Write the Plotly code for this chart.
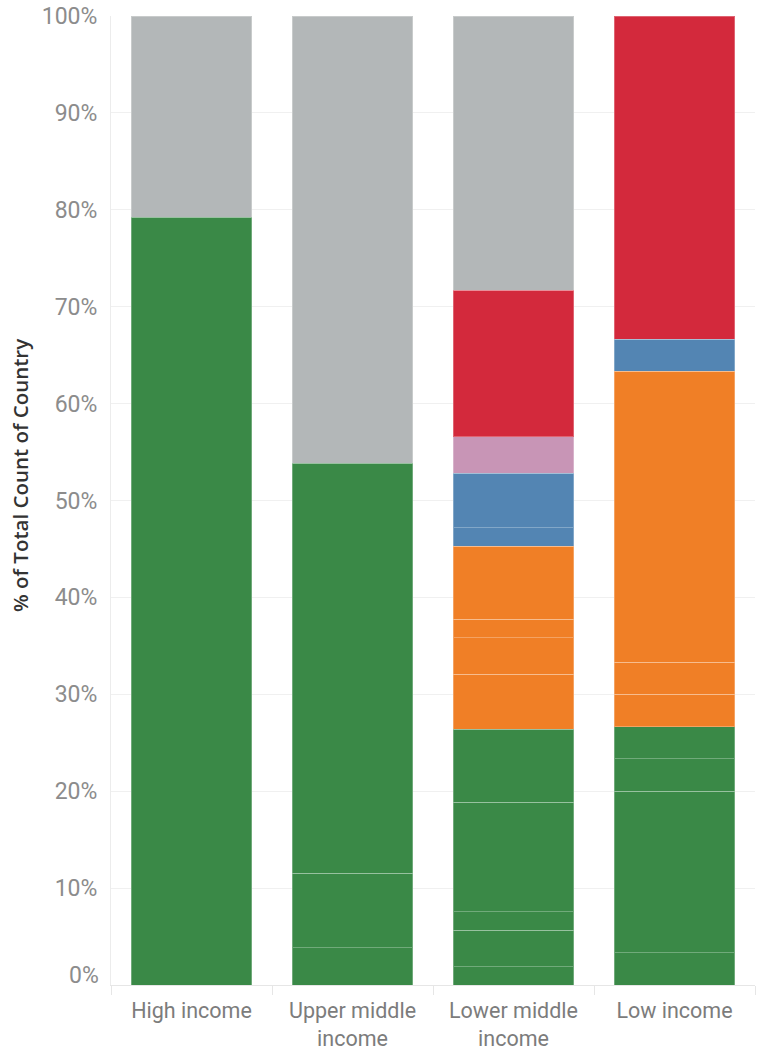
import plotly.graph_objects as go

categories = ["High income", "Upper middle income", "Lower middle income", "Low income"]
tick_labels = ["High income", "Upper middle<br>income", "Lower middle<br>income", "Low income"]

# stacked segments per category, bottom to top: group names and country counts
high_groups = ["green", "gray"]
high_counts = [61, 16]

upper_groups = ["green", "green", "green", "gray"]
upper_counts = [2, 4, 22, 24]

lower_groups = ["green", "green", "green", "green", "green",
                "orange", "orange", "orange", "orange",
                "blue", "blue", "pink", "red", "gray"]
lower_counts = [1, 2, 1, 6, 4, 3, 2, 1, 4, 1, 3, 2, 8, 15]

low_groups = ["green", "green", "green", "green", "orange", "orange", "orange", "blue", "red"]
low_counts = [1, 5, 1, 1, 1, 1, 9, 1, 10]

y_ticks = [0, 10, 20, 30, 40, 50, 60, 70, 80, 90, 100]
y_title = "% of Total Count of Country"

colors = {
    "green": "#3a8947",
    "orange": "#f07f26",
    "blue": "#5385b3",
    "pink": "#c895b6",
    "red": "#d3293c",
    "gray": "#b3b7b8",
}

fig = go.Figure()
for cat, groups, counts in [
    (categories[0], high_groups, high_counts),
    (categories[1], upper_groups, upper_counts),
    (categories[2], lower_groups, lower_counts),
    (categories[3], low_groups, low_counts),
]:
    for g, c in zip(groups, counts):
        fig.add_trace(go.Bar(
            x=[cat], y=[c], name=g, showlegend=False,
            marker=dict(color=colors[g], line=dict(color="rgba(255,255,255,0.28)", width=1)),
        ))

font_family = "Roboto, 'Open Sans', sans-serif"
tick_color = "#8c8c8c"
fig.update_layout(
    barmode="stack",
    barnorm="percent",
    bargap=0.25,
    width=761, height=1050,
    margin=dict(l=111, r=6, t=16, b=65, autoexpand=False),
    plot_bgcolor="white", paper_bgcolor="white",
    font=dict(family=font_family, color=tick_color),
)
fig.update_xaxes(
    automargin=False,
    categoryorder="array", categoryarray=categories,
    tickvals=categories, ticktext=tick_labels,
    tickfont=dict(size=21.5, color="#7c7c7c"),
    tickson="boundaries", ticks="outside", ticklen=9, tickcolor="#e6e6e6",
    ticklabelstandoff=6,
    showline=True, linecolor="#e6e6e6", linewidth=1,
    showgrid=False,
)
fig.update_yaxes(
    automargin=False,
    range=[0, 100],
    tickvals=y_ticks, ticktext=["" if v == 0 else f"{v}%" for v in y_ticks],
    tickfont=dict(size=23, color=tick_color),
    ticklabeloverflow="allow",
    showgrid=True, gridcolor="#f0f0f0", gridwidth=1,
    showline=True, linecolor="#ececec", linewidth=1,
    zeroline=False,
    ticklabelstandoff=8,
)
# zero label nudged up as in the original layout
fig.add_annotation(
    xref="paper", yref="y", x=0, y=y_ticks[0], text=f"{y_ticks[0]}%",
    showarrow=False, xanchor="right", yanchor="middle", xshift=-10, yshift=10,
    font=dict(size=23, color=tick_color, family=font_family),
)
fig.add_annotation(
    xref="paper", yref="paper", x=-0.1413, y=0.5253, text=y_title, textangle=-90,
    showarrow=False, xanchor="center", yanchor="middle",
    font=dict(size=20.5, color="#333333", family="'Open Sans', sans-serif", weight=600),
)
fig.write_html("out.html", config={"displayModeBar": False},
               post_script="document.body.style.margin='0px';")
